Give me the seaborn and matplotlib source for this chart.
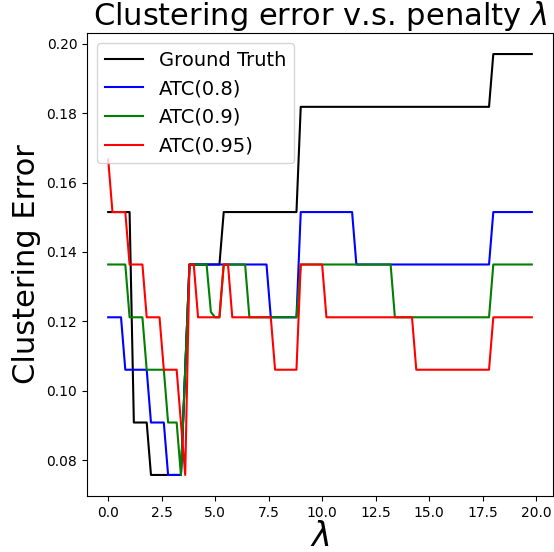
import numpy as np
import pandas as pd
import matplotlib
matplotlib.use("Agg")
import matplotlib.pyplot as plt
import seaborn as sns

# lambda grid (step 0.2, 0 .. 19.8)
lam = np.round(np.arange(100) * 0.2, 1)

# Clustering error, as run-length (value, count) pairs
gt_vals = [0.1515, 0.0909, 0.0758, 0.1061, 0.1364, 0.1515, 0.1818, 0.1970]
gt_runs = [6, 4, 8, 1, 8, 18, 45, 10]

atc08_vals = [0.1212, 0.1061, 0.0909, 0.0758, 0.1061, 0.1364, 0.1212, 0.1515, 0.1364, 0.1515]
atc08_runs = [4, 6, 4, 4, 1, 19, 7, 13, 32, 10]

atc09_vals = [0.1364, 0.1212, 0.1061, 0.0909, 0.0758, 0.1061, 0.1364, 0.1227, 0.1212,
              0.1364, 0.1212, 0.1364, 0.1212, 0.1364]
atc09_runs = [5, 4, 5, 3, 1, 1, 5, 1, 2, 6, 12, 22, 23, 10]

atc095_vals = [0.1667, 0.1515, 0.1364, 0.1212, 0.1061, 0.0909, 0.0758, 0.1364, 0.1212,
               0.1364, 0.1212, 0.1061, 0.1364, 0.1212, 0.1061, 0.1212]
atc095_runs = [1, 4, 4, 4, 4, 1, 1, 2, 6, 2, 10, 6, 6, 21, 18, 10]

labels = ["Ground Truth", "ATC(0.8)", "ATC(0.9)", "ATC(0.95)"]
colors = ["black", "blue", "green", "red"]

series = [(gt_vals, gt_runs), (atc08_vals, atc08_runs),
          (atc09_vals, atc09_runs), (atc095_vals, atc095_runs)]
frames = []
for name, (vals, runs) in zip(labels, series):
    err = np.repeat(vals, runs)
    frames.append(pd.DataFrame({"lambda": lam, "error": err, "method": name}))
df = pd.concat(frames, ignore_index=True)

fig = plt.figure(figsize=(5.54, 5.52), dpi=100)
ax = fig.add_axes([87 / 554, 1 - 496 / 552, (553 - 87) / 554, (496 - 33) / 552])

sns.lineplot(data=df, x="lambda", y="error", hue="method", hue_order=labels,
             palette=colors, linewidth=1.5, ax=ax, estimator=None, sort=True)

handles, labs = ax.get_legend_handles_labels()
ax.legend(handles, labs, loc="upper left", fontsize=14)

ax.set_title(r"Clustering error v.s. penalty $\lambda$", fontsize=22)
ax.set_xlabel(r"$\lambda$", fontsize=24, labelpad=0)
ax.set_ylabel("Clustering Error", fontsize=22)
ax.set_yticks([0.08, 0.10, 0.12, 0.14, 0.16, 0.18, 0.20])

fig.savefig("out.png", dpi=100)
